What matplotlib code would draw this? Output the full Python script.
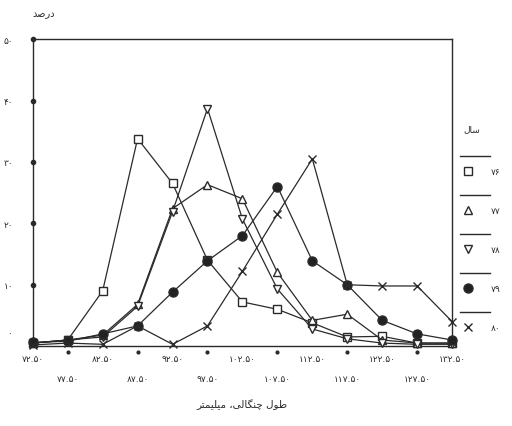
"""Fork-length frequency by year (Persian labels), recreated from a scanned figure."""
import matplotlib
matplotlib.use("Agg")
import matplotlib.pyplot as plt

# bin centres, mm
lengths = [72.5, 77.5, 82.5, 87.5, 92.5, 97.5, 102.5, 107.5, 112.5, 117.5, 122.5, 127.5, 132.5]
# percent per year
y76 = [0.5, 1.0, 9.0, 33.8, 26.5, 14.0, 7.2, 6.0, 3.8, 1.5, 1.6, 0.5, 0.5]
y77 = [0.5, 1.0, 1.8, 6.8, 22.4, 26.3, 24.0, 12.0, 4.2, 5.2, 1.0, 0.5, 0.5]
y78 = [0.5, 1.0, 1.5, 6.5, 21.9, 38.7, 20.7, 9.3, 2.8, 1.2, 0.5, 0.3, 0.3]
y79 = [0.6, 0.8, 2.0, 3.3, 8.8, 13.9, 18.0, 26.0, 13.9, 10.0, 4.2, 2.0, 1.0]
y80 = [0.2, 0.5, 0.3, 3.3, 0.3, 3.3, 12.2, 21.5, 30.5, 10.0, 9.8, 9.8, 4.0]
years = ["۷۶", "۷۷", "۷۸", "۷۹", "۸۰"]
markers = ["s", "^", "v", "o", "x"]
fills = ["white", "white", "white", "#222222", "#222222"]

xtick_labels = ["۷۲.۵۰", "۷۷.۵۰", "۸۲.۵۰", "۸۷.۵۰", "۹۲.۵۰", "۹۷.۵۰", "۱۰۲.۵۰",
                "۱۰۷.۵۰", "۱۱۲.۵۰", "۱۱۷.۵۰", "۱۲۲.۵۰", "۱۲۷.۵۰", "۱۳۲.۵۰"]
yticks = [0, 10, 20, 30, 40, 50]
ytick_labels = ["۰", "۱۰", "۲۰", "۳۰", "۴۰", "۵۰"]

# Arabic script written in presentation forms, visual order (no shaping engine here)
xlabel = "ﺮﺘﻤﯿﻠﯿﻣ ،ﯽﻟﺎﮕﻨﭼ ﻝﻮﻃ"   # طول چنگالی، میلیمتر
ylabel = "ﺪﺻﺭﺩ"                  # درصد
leg_title = "ﻝﺎﺳ"                # سال

ink = "#2a2a2a"
fig = plt.figure(figsize=(5.12, 4.27), dpi=100)
ax = fig.add_axes([0.064, 0.187, 0.819, 0.719])

for ys, m, fc in zip([y76, y77, y78, y79, y80], markers, fills):
    ax.plot(lengths, ys, color=ink, lw=0.9, marker=m,
            ms=6.5 if m == "o" else 5.5,
            mfc=fc, mec=ink, mew=1.0, clip_on=False, zorder=3)

ax.set_xlim(72.5, 132.5)
ax.set_ylim(0, 50)
for s in ax.spines.values():
    s.set_color(ink)
    s.set_linewidth(1.0)

ax.set_xticks(lengths)
ax.set_xticklabels([])
ax.tick_params(axis="x", length=0)
for i, (x, lab) in enumerate(zip(lengths, xtick_labels)):
    if i % 2 == 0:
        ax.text(x, -1.2, lab, ha="center", va="top",
                fontsize=6.5, color=ink, family="DejaVu Sans")
    else:
        ax.text(x, -4.6, lab, ha="center", va="top",
                fontsize=6.5, color=ink, family="DejaVu Sans")
        ax.plot([x], [-0.9], "o", ms=2, color=ink, clip_on=False)

ax.set_yticks(yticks[1:])
ax.set_yticklabels(ytick_labels[1:], fontsize=6.5, color=ink, family="DejaVu Sans")
ax.tick_params(axis="y", length=0, pad=14)
ax.text(-0.05, 2.2, ytick_labels[0], transform=ax.get_yaxis_transform(),
        fontsize=6.5, color=ink, ha="right", va="center", family="DejaVu Sans")
ax.plot([72.5] * 5, [10, 20, 30, 40, 50], "o", ms=3, color=ink, clip_on=False)

ax.text(0.025, 1.075, ylabel, transform=ax.transAxes, fontsize=7,
        color=ink, family="DejaVu Sans", ha="center")
ax.text(0.5, -0.2, xlabel, transform=ax.transAxes, fontsize=7.5,
        color=ink, family="DejaVu Sans", ha="center")

# legend drawn by hand to the right of the frame
fig.text(0.905, 0.69, leg_title, fontsize=6.5, color=ink, family="DejaVu Sans")
for k, (lab, m, fc) in enumerate(zip(years, markers, fills)):
    yy = 0.597 - k * 0.0915
    fig.add_artist(plt.Line2D([0.898, 0.957], [yy + 0.035, yy + 0.035],
                              color=ink, lw=1.0))
    fig.add_artist(plt.Line2D([0.915], [yy], marker=m,
                              ms=6.5 if m == "o" else 5.5, mfc=fc,
                              mec=ink, mew=1.0, color=ink))
    fig.text(0.958, yy, lab, fontsize=6.5, color=ink, va="center",
             family="DejaVu Sans")

fig.savefig("out.png", dpi=100)
